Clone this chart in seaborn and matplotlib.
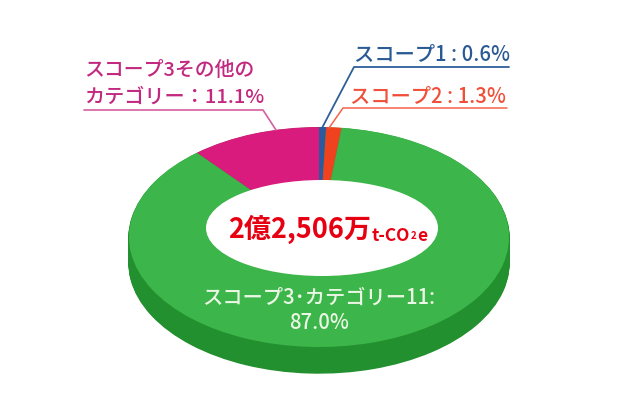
import numpy as np
import seaborn as sns
import matplotlib.pyplot as plt
from matplotlib.patches import Ellipse

# 排出量の内訳 (%)
labels = ['スコープ1', 'スコープ2', 'スコープ3・カテゴリー11', 'スコープ3その他のカテゴリー']
values = [0.6, 1.3, 87.0, 11.1]
colors = ['#2b5a9e', '#f0421f', '#3cb54a', '#d81b7c']
side_color = '#23902f'

sns.set_theme(style='white')
plt.rcParams['font.family'] = ['Noto Sans CJK JP', 'DejaVu Sans']

W, H = 640, 400
fig = plt.figure(figsize=(W / 100, H / 100), dpi=100, facecolor='white')

# 楕円の大きさ(px)
cx, cy, rx, ry, depth = 319, 237, 190, 110, 26

ax = fig.add_axes([(cx - rx) / W, (H - cy - ry - depth) / H, 2 * rx / W, (2 * ry + depth) / H])
# 側面は少しずつずらして重ねる
for d in np.arange(depth, 0, -1):
    ax.pie(values, radius=1, startangle=90, counterclock=False,
           colors=[side_color] * len(values), center=(0, -d / ry),
           wedgeprops={'linewidth': 1, 'edgecolor': side_color})
ax.pie(values, radius=1, startangle=90, counterclock=False, colors=colors,
       center=(0, 0), wedgeprops={'linewidth': 0})
ax.set_aspect('auto')
ax.set_xlim(-1, 1)
ax.set_ylim(-1 - depth / ry, 1)
ax.axis('off')

# 文字と引き出し線はピクセル座標の重ね軸に置く
top = fig.add_axes([0, 0, 1, 1], facecolor='none')
top.set_xlim(0, W)
top.set_ylim(H, 0)
top.axis('off')

top.add_patch(Ellipse((322, 228), 232, 96, facecolor='white', edgecolor='none'))

top.plot([509, 354, 322], [67, 67, 128], color='#2f5f9a', lw=1.3)
top.plot([507, 343, 329], [108, 108, 128], color='#f4634a', lw=1.1)
top.plot([84, 263, 276], [110, 110, 130], color='#d65f9f', lw=1.2)

top.text(354, 54, 'スコープ1 : 0.6%', color='#2a5a94', fontsize=14.6, fontweight='medium', va='center', ha='left')
top.text(350, 96, 'スコープ2 : 1.3%', color='#f0503a', fontsize=14.6, fontweight='medium', va='center', ha='left')
top.text(84, 70, 'スコープ3その他の', color='#c2287f', fontsize=14.3, fontweight='medium', va='center', ha='left')
top.text(84, 97, 'カテゴリー：11.1%', color='#c2287f', fontsize=14.5, fontweight='medium', va='center', ha='left')

top.text(228, 229, '2億2,506万', color='#e60012', fontsize=19.5, fontweight='bold', va='center', ha='left')
top.text(372, 236, 't-CO', color='#e60012', fontsize=12.5, fontweight='bold', va='center', ha='left')
top.text(411, 236, '2', color='#e60012', fontsize=7, fontweight='bold', va='center', ha='left')
top.text(417, 236, 'e', color='#e60012', fontsize=12.5, fontweight='bold', va='center', ha='left')

top.text(319, 298, 'スコープ3･カテゴリー11:', color='#eaf7e4', fontsize=14.6, fontweight='medium', va='center', ha='center')
top.text(319, 323, '87.0%', color='#eaf7e4', fontsize=14.6, fontweight='medium', va='center', ha='center')

plt.savefig('out.png', dpi=100, facecolor='white')
